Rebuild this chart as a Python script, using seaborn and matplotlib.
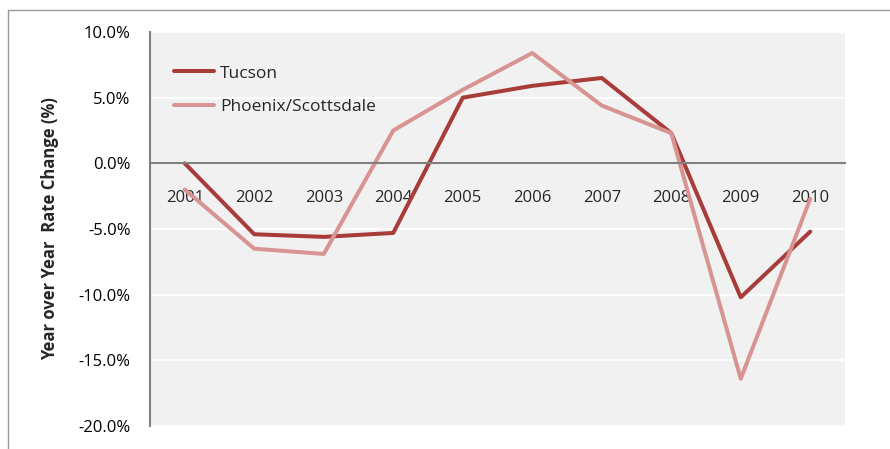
import pandas as pd
import matplotlib
matplotlib.use('Agg')
import matplotlib.pyplot as plt
import matplotlib.ticker as mticker
from matplotlib.lines import Line2D
import seaborn as sns

# data (year-over-year rate change, %)
years = ['2001', '2002', '2003', '2004', '2005', '2006', '2007', '2008', '2009', '2010']
tucson = [0.0, -5.4, -5.6, -5.3, 5.0, 5.9, 6.5, 2.3, -10.2, -5.2]
phoenix = [-2.0, -6.5, -6.9, 2.5, 5.6, 8.4, 4.4, 2.3, -16.4, -2.7]
series_names = ['Tucson', 'Phoenix/Scottsdale']
colors = ['#A83C3A', '#D89492']

# build a long table for seaborn
df = pd.DataFrame({
    'pos': list(range(len(years))) * 2,
    'value': tucson + phoenix,
    'series': [series_names[0]] * len(years) + [series_names[1]] * len(years),
})

sns.set_style('white')
plt.rcParams['font.family'] = ['Open Sans', 'DejaVu Sans']

fig = plt.figure(figsize=(8.9, 4.49), dpi=100)
ax = fig.add_axes([150 / 890, 1 - 426 / 449, 695 / 890, 394 / 449])
ax.set_facecolor('#F1F1F1')

sns.lineplot(data=df, x='pos', y='value', hue='series', hue_order=series_names,
             palette=colors, linewidth=2.9, ax=ax, legend=False)

# axes limits and ticks
ax.set_xlim(-0.5, len(years) - 0.5)
ax.set_ylim(-20, 10)
ax.yaxis.set_major_locator(mticker.MultipleLocator(5))
ax.yaxis.set_major_formatter(mticker.FuncFormatter(lambda v, p: f'{v:.1f}%'))
ax.tick_params(axis='y', length=0, pad=14, labelsize=12, colors='black')

ax.set_xticks(range(len(years)))
ax.set_xticklabels(years)
ax.set_xticks([i - 0.5 for i in range(len(years) + 1)], minor=True)
ax.tick_params(axis='x', which='major', length=0, pad=19, labelsize=12)
ax.tick_params(axis='x', which='minor', direction='in', length=7, width=1, color='#808080')

# white horizontal gridlines
ax.grid(axis='y', color='white', linewidth=1.2)
ax.grid(axis='x', visible=False)
ax.set_axisbelow(True)

# spines: left and a zero-line x axis
for s in ['top', 'right']:
    ax.spines[s].set_visible(False)
ax.spines['bottom'].set_position(('data', 0))
ax.spines['bottom'].set_color('#808080')
ax.spines['bottom'].set_linewidth(1.5)
ax.spines['left'].set_color('#808080')
ax.spines['left'].set_linewidth(1.5)

ax.set_xlabel('')
ax.set_ylabel('Year over Year  Rate Change (%)', fontsize=12, fontweight='bold', labelpad=14)

# legend
handles = [Line2D([0], [0], color=c, linewidth=2.9) for c in colors]
ax.legend(handles, series_names, loc='upper left', bbox_to_anchor=(0.012, 0.955),
          frameon=False, fontsize=12.5, handlelength=2.3, handletextpad=0.35,
          labelspacing=1.0)

# thin frame around the chart
fig.add_artist(Line2D([8 / 890, 8 / 890], [0, 1 - 10 / 449], color='#9A9A9A', linewidth=1))
fig.add_artist(Line2D([8 / 890, 1], [1 - 10 / 449, 1 - 10 / 449], color='#9A9A9A', linewidth=1))

fig.savefig('out.png', dpi=100)
